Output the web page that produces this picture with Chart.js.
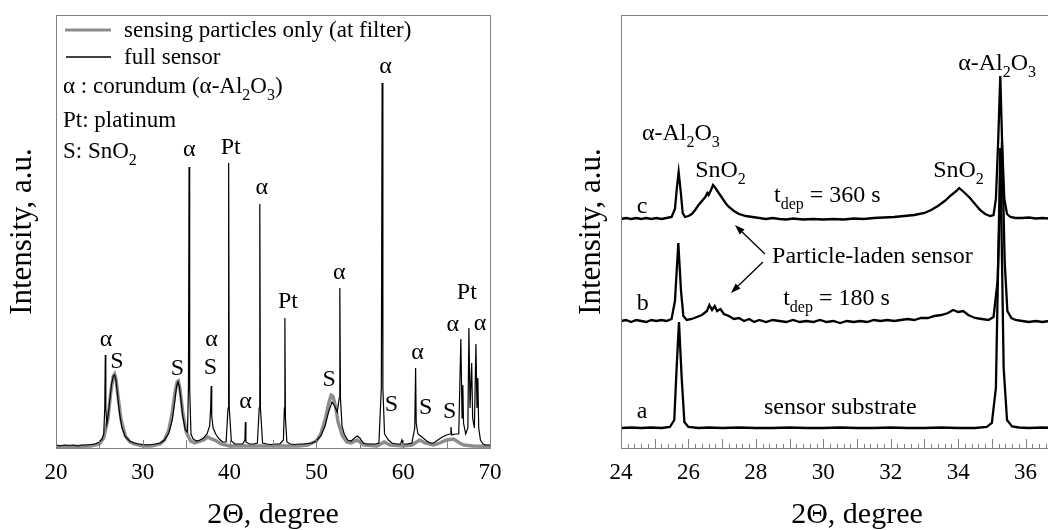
<!DOCTYPE html>
<html>
<head>
<meta charset="utf-8">
<script src="https://cdn.jsdelivr.net/npm/chart.js@4.4.1/dist/chart.umd.min.js"></script>
<style>
  html, body { margin: 0; padding: 0; background: #fff; }
  #wrap { position: relative; width: 1048px; height: 530px; overflow: hidden; background: #fff; }
  #leftChart { position: absolute; left: 0; top: 0; width: 520px; height: 530px; }
  #rightChart { position: absolute; left: 560px; top: 0; width: 560px; height: 530px; }
</style>
</head>
<body>
<div id="wrap">
  <canvas id="leftChart" width="520" height="530"></canvas>
  <canvas id="rightChart" width="560" height="530"></canvas>
</div>
<script>
// ---------- left panel: full sensor vs. sensing particles (2theta, a.u.) ----------
const fullSensor = [
  [20.0, 3], [20.5, 2], [21.0, 3], [21.5, 2.5], [22.0, 3], [22.5, 2], [23.0, 3], [23.5, 3],
  [24.0, 3.5], [24.5, 4], [25.0, 6], [25.3, 9], [25.5, 14], [25.62, 40], [25.68, 93], [25.74, 40],
  [25.85, 24], [26.0, 32], [26.2, 48], [26.4, 64], [26.6, 72], [26.75, 73], [26.9, 68], [27.1, 52],
  [27.3, 36], [27.6, 20], [28.0, 11], [28.5, 7], [29.0, 5], [29.5, 4], [30.0, 3.5], [30.5, 3],
  [31.0, 3.5], [31.5, 4], [32.0, 5], [32.5, 8], [33.0, 15], [33.4, 28], [33.7, 48], [33.9, 62],
  [34.05, 66], [34.2, 62], [34.4, 48], [34.6, 32], [34.9, 18], [35.15, 16], [35.26, 60], [35.33, 281],
  [35.4, 60], [35.55, 14], [35.8, 9], [36.2, 7], [36.6, 8], [37.0, 10], [37.4, 14], [37.7, 22],
  [37.82, 40], [37.88, 62], [37.94, 32], [38.1, 20], [38.4, 14], [38.8, 9], [39.2, 6], [39.6, 6],
  [39.82, 40], [39.89, 285], [39.96, 40], [40.2, 7], [40.6, 4], [41.0, 4], [41.5, 4], [41.76, 8],
  [41.82, 26], [41.88, 6], [42.3, 4], [42.8, 4], [43.2, 5], [43.41, 40], [43.48, 244], [43.55, 40],
  [43.8, 5], [44.3, 4], [44.8, 3.5], [45.3, 4], [45.8, 4], [46.2, 8], [46.31, 40], [46.37, 130],
  [46.43, 30], [46.6, 6], [47.0, 4], [47.5, 3.5], [48.0, 4], [48.5, 4], [49.0, 4.5], [49.5, 5],
  [50.0, 7], [50.5, 12], [51.0, 22], [51.4, 36], [51.8, 46], [52.1, 42], [52.4, 36], [52.63, 50],
  [52.7, 160], [52.77, 50], [52.95, 22], [53.2, 14], [53.6, 8], [54.0, 7], [54.4, 10], [54.7, 12],
  [55.0, 10], [55.4, 5], [55.8, 4], [56.3, 4], [56.8, 4], [57.2, 5], [57.48, 60], [57.57, 365],
  [57.66, 60], [57.85, 14], [58.0, 12], [58.3, 8], [58.7, 5], [59.2, 4], [59.7, 4], [59.85, 8],
  [60.0, 4], [60.5, 4], [61.0, 5], [61.33, 20], [61.43, 80], [61.5, 25], [61.7, 14], [62.0, 12],
  [62.3, 10], [62.7, 7], [63.1, 5], [63.5, 5], [64.0, 8], [64.5, 11], [65.0, 13], [65.4, 14],
  [65.5, 21], [65.6, 13], [66.0, 14], [66.4, 14], [66.64, 109], [66.78, 30], [66.87, 63], [66.95, 25],
  [67.2, 14], [67.45, 20], [67.57, 120], [67.7, 40], [67.89, 85], [68.0, 30], [68.2, 20], [68.38, 104],
  [68.5, 40], [68.6, 70], [68.7, 20], [68.9, 8], [69.2, 4], [69.5, 3], [70.0, 3]
];

const particlesOnly = [
  [20, 1.5], [22, 1.5], [24, 2], [25, 4], [25.5, 10], [26.0, 30], [26.3, 55], [26.6, 72],
  [26.75, 74], [26.9, 70], [27.2, 48], [27.5, 28], [28.0, 12], [28.5, 6], [29, 4], [30, 2],
  [31, 2], [32, 4], [32.5, 8], [33.0, 18], [33.4, 36], [33.7, 55], [33.95, 66], [34.1, 67],
  [34.3, 58], [34.6, 36], [35.0, 16], [35.5, 7], [36, 5], [37, 8], [37.5, 11], [37.9, 9],
  [38.3, 8], [39, 4], [40, 2], [42, 2], [44, 2], [46, 2], [48, 2], [49, 3], [50, 7],
  [50.5, 14], [51.0, 28], [51.4, 44], [51.7, 53], [51.9, 52], [52.2, 42], [52.5, 26], [53, 12],
  [53.5, 6], [54, 5], [54.7, 8], [55.5, 3], [57, 2], [57.8, 6], [58.5, 3], [60, 2], [61, 3],
  [61.9, 8], [62.5, 5], [63.5, 3], [64.2, 5], [65, 8], [65.8, 9], [66.5, 5], [67, 3], [68, 2], [70, 1.5]
];

// peak labels: [text, 2theta, height]
const leftPeakLabels = [
  ['α', 25.76, 108], ['S', 27.03, 86], ['S', 33.98, 79], ['α', 35.37, 298], ['Pt', 40.12, 300],
  ['α', 43.71, 260], ['α', 37.92, 108], ['S', 37.8, 80], ['α', 41.85, 46], ['Pt', 46.72, 146],
  ['S', 51.47, 68], ['α', 52.63, 175], ['α', 57.96, 381], ['S', 58.65, 43], ['α', 61.66, 95],
  ['S', 62.58, 40], ['S', 65.36, 36], ['α', 65.71, 123], ['Pt', 67.33, 155], ['α', 68.84, 124]
];
const leftLegendNotes = ['α : corundum (α-Al_{2}O_{3})', 'Pt: platinum', 'S: SnO_{2}'];

// ---------- right panel: stacked patterns a, b, c ----------
const substrate = [
  [24.0, 0], [24.3, 0.5], [24.6, 0], [24.9, 0.5], [25.2, 0], [25.45, 1], [25.58, 8], [25.65, 60],
  [25.72, 106], [25.8, 50], [25.88, 6], [26.0, 1], [26.3, 0], [26.6, 0.5], [27, 0], [27.5, 0.5],
  [28, 0], [28.5, 0], [29, 0.5], [29.5, 0], [30, 0], [30.5, 0.5], [31, 0], [31.5, 0], [32, 0.5],
  [32.5, 0], [33, 0], [33.5, 0.5], [34, 0], [34.5, 0], [34.85, 1], [35.0, 5], [35.12, 40],
  [35.25, 280], [35.35, 60], [35.45, 8], [35.6, 1.5], [35.8, 0.5], [36.1, 0], [36.5, 0.5], [37, 0]
];
const laden180 = [
  [24.0, 0], [24.15, 1], [24.3, -1], [24.45, 1], [24.6, 0], [24.75, -1], [24.9, 1], [25.05, 0],
  [25.2, 1], [25.35, 0], [25.5, 2], [25.6, 20], [25.7, 78], [25.78, 30], [25.85, 5], [25.95, 1],
  [26.1, 2], [26.25, 4], [26.4, 6], [26.55, 10], [26.62, 16], [26.7, 11], [26.78, 15], [26.85, 10],
  [26.95, 12], [27.05, 7], [27.2, 5], [27.35, 2], [27.5, 3], [27.65, 0], [27.8, 2], [27.95, -1],
  [28.1, 1], [28.3, -1], [28.5, 1], [28.7, 0], [28.9, -1], [29.1, 1], [29.3, -1], [29.5, 0],
  [29.7, -1], [29.9, 1], [30.1, -1], [30.3, 0], [30.5, -2], [30.7, 0], [30.9, -1], [31.1, 0],
  [31.3, -1], [31.5, 1], [31.7, 0], [31.9, 1], [32.1, 0], [32.3, 1], [32.5, 2], [32.7, 1],
  [32.9, 3], [33.1, 3], [33.3, 5], [33.5, 6], [33.7, 8], [33.85, 11], [34.0, 9], [34.15, 10],
  [34.3, 6], [34.5, 3], [34.7, 2], [34.9, 1], [35.05, 4], [35.17, 40], [35.3, 179], [35.38, 60],
  [35.46, 10], [35.58, 3], [35.7, 1], [35.9, 0], [36.1, -1], [36.3, 0], [36.5, -1], [36.7, 0], [37.0, 0]
];
const laden360 = [
  [24.0, 0], [24.15, 1], [24.3, 0], [24.45, 1], [24.6, 0], [24.75, 1], [24.9, 0], [25.05, 1],
  [25.2, 0], [25.35, 1], [25.5, 2], [25.6, 10], [25.66, 32], [25.71, 47], [25.77, 28], [25.83, 6],
  [25.9, 2], [26.0, 3], [26.1, 5], [26.2, 9], [26.3, 14], [26.4, 18], [26.5, 22], [26.56, 26],
  [26.6, 24], [26.67, 29], [26.73, 34], [26.8, 31], [26.9, 26], [27.0, 21], [27.1, 16], [27.2, 12],
  [27.35, 8], [27.5, 5], [27.7, 3], [27.9, 2], [28.1, 1], [28.3, 0], [28.5, 1], [28.7, 0],
  [28.9, -0.5], [29.1, 0.5], [29.4, -0.5], [29.7, 0], [30.0, -0.5], [30.3, 0], [30.6, -0.5], [30.9, 0.5],
  [31.2, 0], [31.5, 1], [31.8, 1.5], [32.1, 2], [32.4, 3], [32.7, 4], [33.0, 6], [33.2, 9],
  [33.4, 13], [33.6, 18], [33.8, 24], [33.95, 28], [34.03, 31], [34.1, 29], [34.2, 26], [34.35, 21],
  [34.5, 15], [34.65, 9], [34.8, 5], [34.95, 3], [35.05, 4], [35.12, 20], [35.19, 80], [35.25, 143],
  [35.31, 70], [35.37, 20], [35.45, 5], [35.55, 2], [35.7, 1], [35.9, 1], [36.1, 1.5], [36.3, 0.5],
  [36.5, 1], [36.7, 0.5], [37.0, 1]
];
const stackOffsets = { a: 20, b: 127, c: 229 };

// text notes: [text, 2theta, height] (left aligned, on the text baseline)
const rightNotes = [
  ['α-Al_{2}O_{3}', 24.62, 308], ['SnO_{2}', 26.2, 271], ['SnO_{2}', 33.26, 271],
  ['α-Al_{2}O_{3}', 34.0, 378], ['t_{dep} = 360 s', 28.54, 246], ['Particle-laden sensor', 28.48, 185],
  ['t_{dep} = 180 s', 28.81, 143], ['sensor substrate', 28.24, 34],
  ['c', 24.47, 235], ['b', 24.47, 138], ['a', 24.47, 30]
];
// arrows: [from 2theta, from height, to 2theta, to height]
const rightArrows = [[28.27, 194, 27.38, 223], [28.21, 186, 27.26, 155]];

const FONT = '"Liberation Serif", "Times New Roman", serif';
const BOX = '#7f7f7f';

function toPoints(pairs, offset) {
  return pairs.map(([x, y]) => ({ x: x, y: y + (offset || 0) }));
}

// draws text with _{...} subscripts
function drawRich(ctx, text, x, y, size, align) {
  const parts = [];
  const re = /_\{([^}]*)\}/g;
  let last = 0, m;
  while ((m = re.exec(text))) {
    if (m.index > last) parts.push({ t: text.slice(last, m.index), sub: false });
    parts.push({ t: m[1], sub: true });
    last = re.lastIndex;
  }
  if (last < text.length) parts.push({ t: text.slice(last), sub: false });
  const subSize = Math.round(size * 0.68);
  let width = 0;
  parts.forEach(p => {
    ctx.font = (p.sub ? subSize : size) + 'px ' + FONT;
    p.w = ctx.measureText(p.t).width;
    width += p.w;
  });
  let cx = align === 'center' ? x - width / 2 : x;
  ctx.textAlign = 'left';
  parts.forEach(p => {
    ctx.font = (p.sub ? subSize : size) + 'px ' + FONT;
    ctx.fillText(p.t, cx, p.sub ? y + size * 0.3 : y);
    cx += p.w;
  });
}

function drawInwardTicks(chart, majorStep, majorLen, minorStep, minorLen) {
  const { ctx, chartArea } = chart;
  const xs = chart.scales.x;
  const n = Math.round((xs.max - xs.min) / minorStep);
  ctx.save();
  ctx.strokeStyle = BOX;
  ctx.lineWidth = 1;
  for (let i = 0; i <= n; i++) {
    const v = xs.min + i * minorStep;
    const r = v / majorStep;
    const major = Math.abs(r - Math.round(r)) < 1e-6;
    const len = major ? majorLen : minorLen;
    if (!len) continue;
    const px = Math.round(xs.getPixelForValue(v)) + 0.5;
    ctx.beginPath();
    ctx.moveTo(px, chartArea.bottom);
    ctx.lineTo(px, chartArea.bottom - len);
    ctx.stroke();
  }
  ctx.restore();
}

function drawBox(chart) {
  const { ctx, chartArea: a } = chart;
  ctx.save();
  ctx.strokeStyle = BOX;
  ctx.lineWidth = 1;
  ctx.strokeRect(Math.round(a.left) + 0.5, Math.round(a.top) + 0.5,
    Math.round(a.right - a.left), Math.round(a.bottom - a.top));
  ctx.restore();
}

function drawArrow(ctx, x1, y1, x2, y2) {
  const ang = Math.atan2(y2 - y1, x2 - x1);
  const head = 10, half = 3.5;
  const bx = x2 - head * Math.cos(ang), by = y2 - head * Math.sin(ang);
  ctx.beginPath();
  ctx.moveTo(x1, y1);
  ctx.lineTo(bx, by);
  ctx.stroke();
  ctx.beginPath();
  ctx.moveTo(x2, y2);
  ctx.lineTo(bx + half * Math.sin(ang), by - half * Math.cos(ang));
  ctx.lineTo(bx - half * Math.sin(ang), by + half * Math.cos(ang));
  ctx.closePath();
  ctx.fill();
}

const leftDecor = {
  id: 'leftDecor',
  afterDatasetsDraw(chart) {
    const { ctx, chartArea: a, scales } = chart;
    drawBox(chart);
    drawInwardTicks(chart, 5, 8, 5, 0);
    ctx.save();
    ctx.fillStyle = '#000';
    ctx.textBaseline = 'middle';
    leftPeakLabels.forEach(([t, x, y]) => {
      drawRich(ctx, t, scales.x.getPixelForValue(x), scales.y.getPixelForValue(y), 24, 'center');
    });
    // legend
    ctx.textBaseline = 'alphabetic';
    ctx.lineWidth = 3;
    ctx.strokeStyle = '#8c8c8c';
    ctx.beginPath(); ctx.moveTo(a.left + 9, a.top + 15); ctx.lineTo(a.left + 55, a.top + 15); ctx.stroke();
    ctx.lineWidth = 1.3;
    ctx.strokeStyle = '#000';
    ctx.beginPath(); ctx.moveTo(a.left + 10, a.top + 42); ctx.lineTo(a.left + 55, a.top + 42); ctx.stroke();
    drawRich(ctx, chart.data.datasets[1].label, a.left + 68, a.top + 22, 23, 'left');
    drawRich(ctx, chart.data.datasets[0].label, a.left + 68, a.top + 49, 23, 'left');
    const noteY = [78, 112, 143];
    leftLegendNotes.forEach((t, i) => drawRich(ctx, t, a.left + 7, a.top + noteY[i], 23, 'left'));
    ctx.restore();
  }
};

const rightDecor = {
  id: 'rightDecor',
  afterDatasetsDraw(chart) {
    const { ctx, scales } = chart;
    drawBox(chart);
    drawInwardTicks(chart, 1, 9, 0.2, 4);
    ctx.save();
    ctx.fillStyle = '#000';
    ctx.strokeStyle = '#000';
    ctx.lineWidth = 1.3;
    ctx.textBaseline = 'alphabetic';
    rightNotes.forEach(([t, x, y]) => {
      drawRich(ctx, t, scales.x.getPixelForValue(x), scales.y.getPixelForValue(y), 24, 'left');
    });
    rightArrows.forEach(([x1, y1, x2, y2]) => {
      drawArrow(ctx, scales.x.getPixelForValue(x1), scales.y.getPixelForValue(y1),
        scales.x.getPixelForValue(x2), scales.y.getPixelForValue(y2));
    });
    ctx.restore();
  }
};

function panelOptions(opt) {
  return {
    responsive: false,
    animation: false,
    devicePixelRatio: 1,
    layout: { padding: { top: 15, right: opt.padRight, left: 0, bottom: 0 } },
    plugins: { legend: { display: false }, tooltip: { enabled: false } },
    elements: { point: { radius: 0 }, line: { tension: 0 } },
    scales: {
      x: {
        type: 'linear',
        min: opt.xMin,
        max: opt.xMax,
        grid: { display: false, drawTicks: false },
        border: { display: false },
        ticks: {
          stepSize: opt.xStep,
          autoSkip: false,
          maxRotation: 0,
          padding: 11,
          color: '#000',
          font: { family: FONT, size: 23 }
        },
        title: {
          display: true,
          text: '2Θ, degree',
          color: '#000',
          font: { family: FONT, size: 30, lineHeight: 1 },
          padding: { top: 0, bottom: 0 }
        },
        afterFit: (s) => { s.height = 82; }
      },
      y: {
        min: 0,
        max: 433,
        grid: { display: false, drawTicks: false },
        border: { display: false },
        ticks: { display: false },
        title: {
          display: true,
          text: 'Intensity, a.u.',
          color: '#000',
          font: { family: FONT, size: 31, lineHeight: 1 },
          padding: { top: opt.yTitlePad, bottom: 0 }
        },
        afterFit: (s) => { s.width = opt.yWidth; }
      }
    }
  };
}

new Chart(document.getElementById('leftChart'), {
  type: 'scatter',
  data: {
    datasets: [
      {
        label: 'full sensor',
        data: toPoints(fullSensor),
        showLine: true,
        borderColor: '#000',
        borderWidth: 1.2
      },
      {
        label: 'sensing particles only (at filter)',
        data: toPoints(particlesOnly),
        showLine: true,
        borderColor: '#8c8c8c',
        borderWidth: 3.4
      }
    ]
  },
  options: panelOptions({ xMin: 20, xMax: 70, xStep: 10, padRight: 30, yWidth: 56, yTitlePad: 7 }),
  plugins: [leftDecor]
});

new Chart(document.getElementById('rightChart'), {
  type: 'scatter',
  data: {
    datasets: [
      { label: 'c', data: toPoints(laden360, stackOffsets.c) },
      { label: 'b', data: toPoints(laden180, stackOffsets.b) },
      { label: 'a', data: toPoints(substrate, stackOffsets.a) }
    ].map(d => Object.assign(d, { showLine: true, borderColor: '#000', borderWidth: 2.3 }))
  },
  options: panelOptions({ xMin: 24, xMax: 38, xStep: 2, padRight: 27, yWidth: 61, yTitlePad: 16 }),
  plugins: [rightDecor]
});
</script>
</body>
</html>
